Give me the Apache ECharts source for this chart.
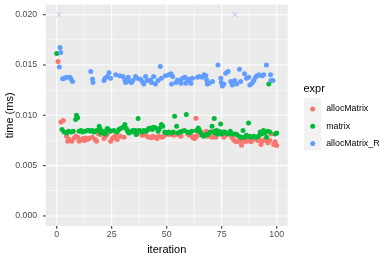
<!DOCTYPE html>
<html>
<head>
<meta charset="utf-8">
<script src="https://cdn.jsdelivr.net/npm/echarts@6/dist/echarts.min.js"></script>
<style>html,body{margin:0;padding:0;background:#fff;}#c{width:390px;height:260px;}</style>
</head>
<body>
<div id="c"></div>
<script>
// ---- data ----
const seriesNames = ['allocMatrix', 'matrix', 'allocMatrix_R'];
const seriesColors = ['#F8766D', '#00BA38', '#619CFF'];

const allocMatrixX = [0.6,1.9,3.0,4.5,5.0,5.7,6.9,8.0,8.7,9.5,10.2,11.0,12.0,12.5,13.2,14.0,14.7,16.2,17.5,18.1,19.0,20.0,21.5,22.3,23.0,24.5,25.3,26.0,26.8,27.5,29.0,30.6,32.5,33.6,35.1,36.6,37.6,38.8,39.6,40.3,41.1,41.8,43.1,43.7,44.9,45.6,46.4,47.9,48.6,49.4,51.1,52.2,53.3,54.1,55.1,56.0,56.5,59.5,60.3,61.4,62.1,62.8,63.3,63.5,64.3,65.3,66.2,67.2,68.0,68.7,69.4,70.6,71.6,72.3,73.1,74.1,76.0,76.7,78.2,79.6,80.4,81.1,82.2,83.3,84.0,84.7,85.2,86.2,87.0,87.7,88.4,89.1,89.8,91.3,92.0,92.8,93.5,94.5,95.4,96.0,96.9,97.4,98.6,99.3,100.0];
const allocMatrixY = [0.01534,0.00934,0.00948,0.00792,0.00742,0.00759,0.00742,0.00775,0.00792,0.00782,0.00742,0.00759,0.00769,0.00749,0.00775,0.00759,0.00769,0.00782,0.00759,0.00742,0.00815,0.00809,0.00769,0.00792,0.00815,0.00742,0.00769,0.00782,0.00802,0.00759,0.00792,0.00782,0.00835,0.00842,0.00842,0.00815,0.00848,0.00802,0.00815,0.00809,0.00792,0.00782,0.00775,0.00792,0.00782,0.00769,0.00792,0.00782,0.00792,0.00809,0.00809,0.00815,0.00802,0.00815,0.00809,0.00802,0.00792,0.00815,0.00802,0.00792,0.00775,0.00769,0.00970,0.00792,0.00809,0.00809,0.00825,0.00802,0.00842,0.00792,0.00815,0.00782,0.00842,0.00782,0.00809,0.00815,0.00782,0.00802,0.00815,0.00782,0.00759,0.00742,0.00736,0.00749,0.00702,0.00759,0.00742,0.00742,0.00769,0.00749,0.00736,0.00759,0.00769,0.00749,0.00759,0.00709,0.00742,0.00759,0.00749,0.00726,0.00749,0.00815,0.00709,0.00736,0.00700];

const matrixX = [0,2.4,3.4,4.5,5.4,6.5,7.5,8.6,9.0,9.5,10.2,11.0,11.7,12.9,14.0,14.7,15.5,16.2,17.0,18.1,19.3,19.6,20.0,20.8,22.0,22.6,23.0,23.5,24.5,26.0,27.5,28.3,29.0,30.1,31.0,31.6,32.1,32.8,34.0,34.6,35.8,36.1,36.6,37.0,37.6,38.8,39.6,40.3,41.1,41.8,42.6,43.4,44.1,44.9,46.1,46.7,47.6,48.2,49.1,50.1,50.9,52.2,53.0,53.6,54.5,55.1,56.0,57.0,58.0,58.9,59.5,60.3,61.4,63.5,64.3,64.7,65.3,66.2,66.8,68.0,68.7,69.7,70.6,70.9,71.6,72.0,72.6,73.0,73.8,74.5,74.9,75.5,76.4,77.0,77.9,78.9,79.9,81.1,81.8,82.8,84.0,84.7,85.5,86.2,87.2,87.7,88.4,89.6,90.6,91.6,92.5,93.1,94.0,94.5,95.4,96.0,96.4,96.9,99.3,100.0];
const matrixY = [0.01613,0.00858,0.00835,0.00825,0.00842,0.00835,0.00842,0.00958,0.01001,0.00975,0.00842,0.00848,0.00835,0.00842,0.00848,0.00848,0.00842,0.00848,0.00835,0.00848,0.00891,0.00868,0.00825,0.00842,0.00815,0.00848,0.00868,0.00858,0.00842,0.00848,0.00835,0.00858,0.00868,0.00881,0.00908,0.00868,0.00848,0.00825,0.00835,0.00848,0.00848,0.00809,0.00835,0.00968,0.00848,0.00835,0.00848,0.00842,0.00848,0.00868,0.00875,0.00858,0.00881,0.00875,0.00842,0.00868,0.00908,0.00891,0.00835,0.00825,0.00835,0.00825,0.00835,0.00991,0.00891,0.00825,0.00835,0.00842,0.00848,0.01008,0.00835,0.00825,0.00842,0.00848,0.00875,0.00858,0.00835,0.00802,0.00792,0.00809,0.00809,0.00835,0.00891,0.00835,0.00968,0.00825,0.00848,0.00815,0.00842,0.00914,0.00815,0.00835,0.00835,0.00825,0.00815,0.00842,0.00815,0.00815,0.00809,0.00792,0.00782,0.00848,0.00782,0.00802,0.00924,0.00792,0.00782,0.00792,0.00782,0.00792,0.00835,0.00815,0.00848,0.00825,0.00782,0.00842,0.01312,0.00835,0.00815,0.00825];

const allocMatrixRX = [1.2,1.5,1.8,2.7,3.4,4.5,6.0,6.5,7.2,15.5,16.3,16.5,21.5,22.0,23.0,23.8,24.5,26.8,28.6,30.1,31.0,31.3,32.5,33.1,34.0,34.6,35.8,36.6,38.1,38.9,39.6,40.4,41.1,42.6,43.1,44.1,44.9,46.1,47.1,47.6,49.4,50.9,52.0,52.2,52.7,54.2,54.9,56.2,56.5,57.2,58.3,58.7,59.5,60.2,61.0,61.7,64.0,64.8,66.2,67.0,67.8,68.2,68.5,69.3,70.8,73.3,74.6,74.8,75.3,76.0,76.8,77.9,79.1,79.8,80.9,81.8,83.1,83.6,85.4,86.3,87.3,87.8,88.8,89.6,90.4,91.1,91.9,93.4,94.1,95.3,97.2,97.4,98.3];
const allocMatrixRY = [0.01481,0.01673,0.01623,0.01362,0.01369,0.01379,0.01379,0.01359,0.01335,0.01434,0.01359,0.01325,0.01345,0.01369,0.01385,0.01424,0.01369,0.01402,0.01392,0.01385,0.01352,0.01325,0.01379,0.01335,0.01325,0.01345,0.01385,0.01369,0.01359,0.01335,0.01312,0.01385,0.01345,0.01352,0.01325,0.01385,0.01312,0.01345,0.01484,0.01369,0.01392,0.01402,0.01412,0.01312,0.01385,0.01325,0.01352,0.01345,0.01319,0.01369,0.01379,0.01319,0.01345,0.01359,0.01319,0.01369,0.01379,0.01385,0.01379,0.01402,0.01392,0.01352,0.01312,0.01319,0.01335,0.01501,0.01369,0.01325,0.01292,0.01312,0.01418,0.01434,0.01335,0.01302,0.01345,0.01312,0.01458,0.01335,0.01412,0.01369,0.01379,0.01302,0.01319,0.01345,0.01379,0.01392,0.01402,0.01392,0.01402,0.01501,0.01402,0.01345,0.01345];

// clipped outliers drawn as crosses at the top
const outlierX = [1, 81];
const outlierY = [0.020, 0.020];

// axes
const xTicks = [0, 25, 50, 75, 100];
const xMinor = [12.5, 37.5, 62.5, 87.5];
const yTicks = [0, 0.005, 0.010, 0.015, 0.020];
const yMinor = [0.0025, 0.0075, 0.0125, 0.0175];
const xLimits = [-5, 105];
const yLimits = [-0.001, 0.021];

const pairs = (xs, ys) => xs.map((x, i) => [x, ys[i]]);
const FONT = 'Liberation Sans, Arial, sans-serif';

// panel geometry
const GRID = { left: 45.7, right: 102.3, top: 4.6, bottom: 34 };
const GRID_W = 390 - GRID.left - GRID.right;
const GRID_H = 260 - GRID.top - GRID.bottom;
const xMid = (xLimits[0] + xLimits[1]) / 2;
const yMid = (yLimits[0] + yLimits[1]) / 2;
const TICKLEN = 2.75, MAJW = 1.07, MINW = 0.53;

// grid lines and tick marks as rect-shaped scatter symbols placed on the axes' scales
function deco(points, size, offset, color) {
  return {
    type: 'scatter', z: 2, clip: false, symbol: 'rect', symbolSize: size, symbolOffset: offset,
    itemStyle: { color: color, opacity: 1 }, emphasis: { disabled: true }, animation: false,
    data: points
  };
}
const series = [
  deco(yMinor.map(v => [xMid, v]), [GRID_W, MINW], [0, 0], '#FFFFFF'),
  deco(xMinor.map(v => [v, yMid]), [MINW, GRID_H], [0, 0], '#FFFFFF'),
  deco(yTicks.map(v => [xMid, v]), [GRID_W, MAJW], [0, 0], '#FFFFFF'),
  deco(xTicks.map(v => [v, yMid]), [MAJW, GRID_H], [0, 0], '#FFFFFF'),
  deco(yTicks.map(v => [xLimits[0], v]), [TICKLEN, MAJW], [-TICKLEN / 2, 0], '#333333'),
  deco(xTicks.map(v => [v, yLimits[0]]), [MAJW, TICKLEN], [0, TICKLEN / 2], '#333333')
];

const dataSeries = [
  pairs(allocMatrixX, allocMatrixY),
  pairs(matrixX, matrixY),
  pairs(allocMatrixRX, allocMatrixRY)
];
seriesNames.forEach((name, k) => {
  series.push({
    name: name, type: 'scatter', symbol: 'circle', symbolSize: 5, z: 3,
    itemStyle: { color: seriesColors[k], opacity: 1 },
    data: dataSeries[k]
  });
});
series.push({
  name: 'outliers', type: 'scatter', z: 3,
  symbol: 'path://M0,0L10,10M10,0L0,10', symbolSize: 5,
  itemStyle: { color: 'none', borderColor: '#9DB6F5', borderWidth: 1 },
  data: pairs(outlierX, outlierY)
});

const legendTops = [104.5, 121.8, 139.1];
const legends = seriesNames.map((name, k) => ({
  data: [name], left: 310.2, top: legendTops[k], orient: 'vertical', padding: 0,
  itemWidth: 5, itemHeight: 5, icon: 'circle', selectedMode: false,
  textStyle: { fontFamily: FONT, fontSize: 8.8, color: '#000', padding: [0, 0, 0, 6] }
}));

const chart = echarts.init(document.getElementById('c'), null, { renderer: 'canvas' });
chart.setOption({
  animation: false,
  backgroundColor: '#FFFFFF',
  textStyle: { fontFamily: FONT },
  title: { text: 'expr', left: 303.5, top: 83, padding: 0,
    textStyle: { fontFamily: FONT, fontSize: 11, fontWeight: 'normal', color: '#000' } },
  legend: legends,
  graphic: [{ id: 'keybg', type: 'rect', shape: { x: 304, y: 98.3, width: 17.3, height: 51.9 },
    style: { fill: '#F2F2F2' }, z: 0 }],
  grid: { left: GRID.left, right: GRID.right, top: GRID.top, bottom: GRID.bottom, show: true,
    backgroundColor: '#EBEBEB', borderWidth: 0, outerBoundsMode: 'none' },
  xAxis: {
    type: 'value', min: xLimits[0], max: xLimits[1],
    name: 'iteration', nameLocation: 'middle', nameGap: 18, nameMoveOverlap: false,
    nameTextStyle: { fontFamily: FONT, fontSize: 11, color: '#000' },
    axisLine: { show: false, onZero: false },
    axisTick: { show: false },
    axisLabel: { customValues: xTicks, fontFamily: FONT, fontSize: 8.8, color: '#4D4D4D', margin: 4.5 },
    splitLine: { show: false }
  },
  yAxis: {
    type: 'value', min: yLimits[0], max: yLimits[1],
    name: 'time (ms)', nameLocation: 'middle', nameGap: 30, nameMoveOverlap: false,
    nameTextStyle: { fontFamily: FONT, fontSize: 11, color: '#000' },
    axisLine: { show: false, onZero: false },
    axisTick: { show: false },
    axisLabel: { customValues: yTicks, fontFamily: FONT, fontSize: 8.8, color: '#4D4D4D', margin: 8.5,
      formatter: v => v.toFixed(3) },
    splitLine: { show: false }
  },
  series: series
});
</script>
</body>
</html>
